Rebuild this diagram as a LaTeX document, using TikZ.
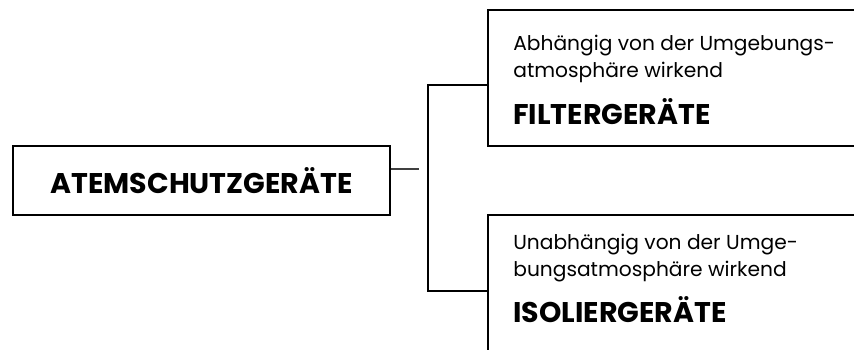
\documentclass[tikz,border=0pt]{standalone}
\usepackage{fontspec}
\setmainfont{Poppins}
\begin{document}
\begin{tikzpicture}[x=0.02cm,y=-0.02cm,
    frame/.style={line width=1.4pt},
    stub/.style={line width=1.1pt,black!75},
    subtext/.style={anchor=west,inner sep=0pt,align=left,
      font=\fontsize{11.5}{15.3}\selectfont},
    subhead/.style={anchor=west,inner sep=0pt,
      font=\fontsize{16.2}{18}\selectfont\bfseries}]
  \useasboundingbox (0,0) rectangle (854,349);
  \node[draw,frame,minimum width=7.54cm,minimum height=1.38cm,
    font=\fontsize{16.2}{18}\selectfont\bfseries] (atem) at (201.5,180.5) {ATEMSCHUTZGERÄTE};
  \coordinate (end) at (419,169);
  \coordinate (fork) at (428,180);
  \coordinate (fin) at (488,85);
  \coordinate (iin) at (488,291);
  \draw[frame] (854,10) -- (488,10) -- (488,146) -- (854,146);
  \draw[frame] (854,215) -- (488,215) -- (488,360);
  \node[subtext] (filtertxt) at (513,58.5) {Abhängig von der Umgebungs-\\atmosphäre wirkend};
  \node[subhead] (filter) at (513,112) {FILTERGERÄTE};
  \node[subtext] (isoliertxt) at (513,258) {Unabhängig von der Umge-\\bungsatmosphäre wirkend};
  \node[subhead] (isolier) at (513,310) {ISOLIERGERÄTE};
  \draw[stub] (atem.east |- end) -- (end);
  \draw[frame] (fin) -- (fin -| fork) -- (iin -| fork) -- (iin);
\end{tikzpicture}
\end{document}
